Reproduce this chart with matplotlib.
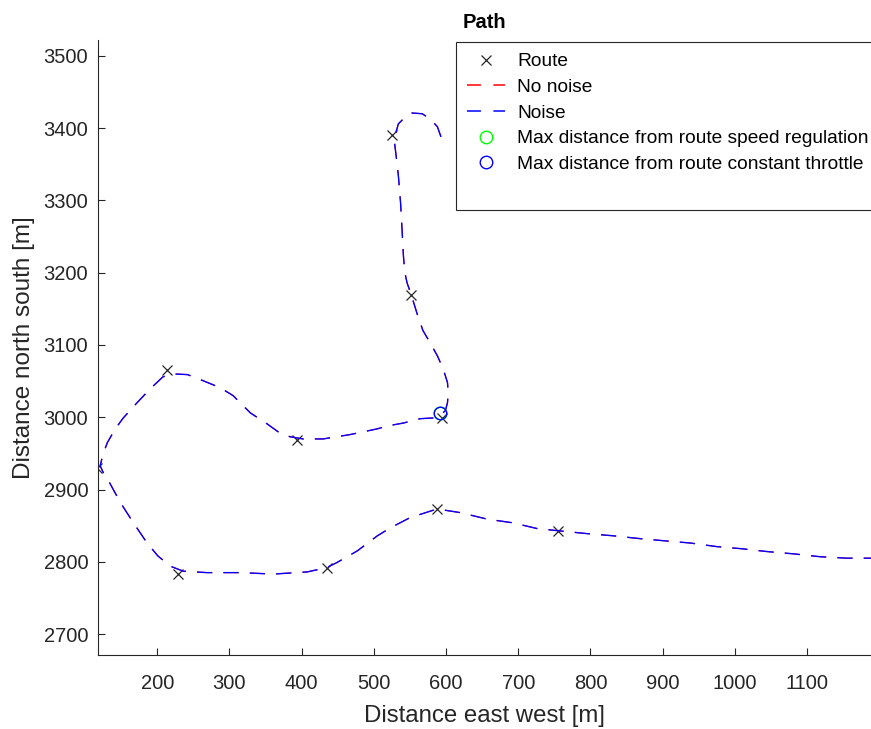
import numpy as np
import matplotlib
matplotlib.use("Agg")
import matplotlib.pyplot as plt

plt.rcParams['font.family'] = ['Liberation Sans', 'DejaVu Sans']
plt.rcParams['lines.scale_dashes'] = False

# route waypoints
route_x = [525, 551, 595, 394, 214, 117, 229, 435, 588, 755]
route_y = [3391, 3169, 2999, 2969, 3066, 2930, 2783, 2792, 2873, 2843]

# path driven
path_x = [593, 588, 579, 567, 553, 541, 534, 528, 530, 532, 534, 537, 539, 541,
          543, 546, 552, 560, 568, 578, 588, 596, 602, 603, 602, 599, 592, 582,
          564, 541, 519, 505, 467, 430, 402, 384, 370, 352, 329, 305, 287, 260,
          242, 222, 208, 190, 172, 153, 142, 131, 125, 121, 125, 131, 149, 167,
          186, 201, 218, 236, 269, 315, 361, 408, 435, 449, 477, 505, 523, 550,
          578, 588, 620, 657, 692, 726, 755, 795, 831, 869, 903, 938, 975, 1010,
          1046, 1081, 1118, 1155, 1189, 1200]
path_y = [3388, 3402, 3412, 3420, 3421, 3413, 3406, 3385, 3369, 3352, 3334, 3297,
          3261, 3223, 3200, 3186, 3169, 3143, 3120, 3103, 3085, 3067, 3048, 3034,
          3020, 3009, 3003, 2999, 2998, 2992, 2988, 2984, 2976, 2970, 2970, 2973,
          2978, 2991, 3006, 3030, 3041, 3052, 3059, 3060, 3056, 3039, 3020, 2999,
          2984, 2965, 2949, 2933, 2924, 2915, 2882, 2854, 2826, 2808, 2794, 2787,
          2785, 2785, 2783, 2786, 2792, 2799, 2815, 2836, 2847, 2861, 2870, 2873,
          2868, 2859, 2854, 2846, 2843, 2839, 2836, 2832, 2829, 2826, 2821, 2818,
          2814, 2811, 2807, 2805, 2805, 2804]

# max distance points
max_speed_reg = (592, 3006)
max_const_thr = (592, 3006)

fig = plt.figure(figsize=(8.71, 7.29), dpi=100)
ax = fig.add_axes([0.1125, 0.1015, 0.8875, 0.8436])

dash = (11, 8)
ax.plot(route_x, route_y, 'x', color='#262626', ms=7.5, mew=0.9, label='Route')
ax.plot(path_x, path_y, '--', color='red', lw=0.8, dashes=dash, label='No noise')
ax.plot(path_x, path_y, '--', color='blue', lw=1.0, dashes=dash, label='Noise')
ax.plot(*max_speed_reg, 'o', mfc='none', mec=(0, 1, 0), ms=9, mew=1.0,
        label='Max distance from route speed regulation')
ax.plot(*max_const_thr, 'o', mfc='none', mec='blue', ms=9, mew=1.0,
        label='Max distance from route constant throttle')
ax.plot([], [], color='none', label=' ')

ax.set_xlim(118, 1188.5)
ax.set_ylim(2671, 3522)
ax.set_xticks(np.arange(200, 1101, 100))
ax.set_yticks(np.arange(2700, 3501, 100))

for s in ['top', 'right']:
    ax.spines[s].set_visible(False)
for s in ['left', 'bottom']:
    ax.spines[s].set_color('#262626')
ax.tick_params(direction='in', length=5, colors='#262626', labelsize=14.5,
               labelcolor='#262626')
ax.tick_params(axis='x', pad=13.5)
ax.tick_params(axis='y', pad=7)

ax.set_xlabel('Distance east west [m]', fontsize=17.3, color='#262626', labelpad=9)
ax.set_ylabel('Distance north south [m]', fontsize=17.5, color='#262626', labelpad=6)
ax.set_title('Path', fontsize=14.5, fontweight='bold', color='black', pad=9)

leg = ax.legend(loc='upper left', bbox_to_anchor=(0.4625, 0.997), fontsize=13.8,
                frameon=True, fancybox=False, edgecolor='#262626', framealpha=1,
                handlelength=2.0, handletextpad=0.65, labelspacing=0.43,
                borderpad=0.58, borderaxespad=0)
leg.get_frame().set_linewidth(0.8)
for ln in leg.get_lines()[1:3]:
    ln.set_linewidth(1.1)
    ln.set_dashes((10, 9))

fig.savefig('out.png', dpi=100)
